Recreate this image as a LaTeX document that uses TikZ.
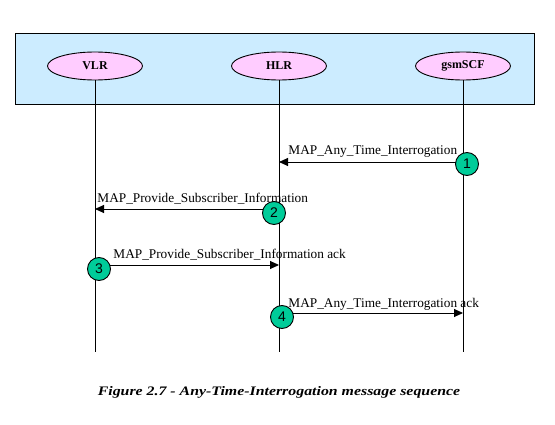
\documentclass[tikz,border=0pt]{standalone}
\usepackage{fontspec}
\setmainfont{Liberation Serif}
\newfontfamily\numfont{Liberation Sans}
\newfontfamily\capfont[FakeStretch=1.22]{Liberation Serif}
\usetikzlibrary{arrows.meta,shapes.geometric}
\definecolor{frameblue}{RGB}{204,236,255}
\definecolor{entpink}{RGB}{255,204,255}
\definecolor{stepgreen}{RGB}{0,204,153}
\tikzset{
  entity/.style={ellipse, draw, fill=entpink, minimum width=95pt, minimum height=28pt, inner sep=0pt, font=\bfseries\fontsize{12}{12}\selectfont},
  stepnum/.style={circle, draw, fill=stepgreen, minimum size=23pt, inner sep=0pt, font=\numfont\fontsize{14}{14}\selectfont},
  msg/.style={-{Triangle[length=9pt,width=8pt]}},
  msglabel/.style={anchor=base west, inner sep=0pt, font=\fontsize{13.3}{13.3}\selectfont}
}
\begin{document}
\begin{tikzpicture}[x=1pt,y=-1pt,line width=0.9pt]
		% frame
		\useasboundingbox (0,0) rectangle (555,425);
		\draw[fill=frameblue] (15,33) rectangle (534,104);
		% entities and lifelines
		\foreach \n/\x/\t in {vlr/95/VLR,hlr/279/HLR,scf/463/gsmSCF}{
			\node[entity] (\n) at (\x,66) {\t};
			\coordinate (\n end) at (\x,352);
			\draw (\n) -- (\n end);
		}
		% message points on the lifelines
		\foreach \i/\y in {1/162,2/209,3/265,4/313}
		\foreach \n in {vlr,hlr,scf}
		\coordinate (\n\i) at (\n |- 0,\y);
		% messages
		\draw[msg] (scf1) -- (hlr1);
		\node[msglabel] (l1) at (288,155) {MAP\_Any\_Time\_Interrogation};
		\draw[msg] (hlr2) -- (vlr2);
		\node[msglabel] (l2) at (97,203) {MAP\_Provide\_Subscriber\_Information};
		\draw[msg] (vlr3) -- (hlr3);
		\node[msglabel] (l3) at (113,259) {MAP\_Provide\_Subscriber\_Information ack};
		\draw[msg] (hlr4) -- (scf4);
		\node[msglabel] (l4) at (288,307) {MAP\_Any\_Time\_Interrogation ack};
		% steps
		\node[stepnum] (s1) at (467,164) {1};
		\node[stepnum] (s2) at (274,213) {2};
		\node[stepnum] (s3) at (99,269) {3};
		\node[stepnum] (s4) at (282,317) {4};
		% caption
		\node[anchor=base, font=\capfont\bfseries\itshape\fontsize{13}{13}\selectfont] (caption) at (279,395) {Figure 2.7 - Any-Time-Interrogation message sequence};
\end{tikzpicture}
\end{document}
